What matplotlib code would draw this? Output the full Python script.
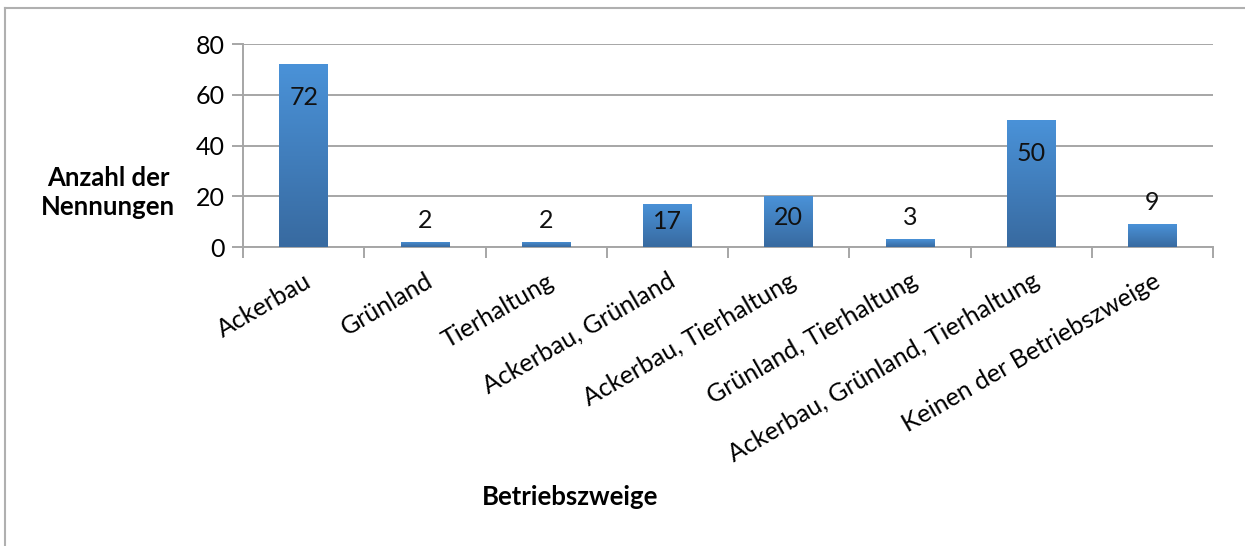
import numpy as np
import matplotlib.pyplot as plt
from matplotlib.lines import Line2D
from matplotlib.colors import LinearSegmentedColormap

categories = ["Ackerbau", "Grünland", "Tierhaltung", "Ackerbau, Grünland",
              "Ackerbau, Tierhaltung", "Grünland, Tierhaltung",
              "Ackerbau, Grünland, Tierhaltung", "Keinen der Betriebszweige"]
counts = [72, 2, 2, 17, 20, 3, 50, 9]
y_ticks = [0, 20, 40, 60, 80]

plt.rcParams['font.family'] = ['Lato', 'DejaVu Sans']

fig = plt.figure(figsize=(12.45, 5.46), dpi=100)
ax = fig.add_axes([0.1952, 0.5476, 0.7791, 0.3718])

x = np.arange(len(categories))
bars = ax.bar(x, counts, width=0.4, color='none', edgecolor='none', zorder=3)

# vertical gradient for each bar, light on top
grad = LinearSegmentedColormap.from_list("bar", ["#386aa0", "#4a92d8"])
ramp = np.linspace(0, 1, 256).reshape(-1, 1)
for b in bars:
    x0, y0, w, h = b.get_x(), b.get_y(), b.get_width(), b.get_height()
    im = ax.imshow(ramp, cmap=grad, origin='lower', aspect='auto',
                   extent=[x0, x0 + w, y0, y0 + h], zorder=3)
    im.set_clip_path(b)

ax.set_xlim(-0.5, len(categories) - 0.5)
ax.set_ylim(0, 80)
ax.set_yticks(y_ticks)
ax.set_yticklabels([str(t) for t in y_ticks], fontsize=18)
ax.yaxis.grid(True, color='#a6a6a6', linewidth=1.4, zorder=0)
ax.set_axisbelow(True)

# category ticks sit on the boundaries between bars
ax.set_xticks(np.arange(len(categories) + 1) - 0.5)
ax.set_xticklabels([])
ax.set_xticks(x, minor=True)
ax.set_xticklabels(categories, minor=True, rotation=30, ha='right',
                   rotation_mode='anchor', fontsize=18)
ax.tick_params(axis='x', which='minor', length=0, pad=16)
ax.tick_params(axis='x', which='major', length=8, color='#a6a6a6', width=1.4)
ax.tick_params(axis='y', length=8, color='#a6a6a6', width=1.4, pad=5)

for side in ['top', 'right']:
    ax.spines[side].set_visible(False)
ax.spines['left'].set_color('#a6a6a6')
ax.spines['bottom'].set_color('#a6a6a6')
ax.spines['left'].set_linewidth(1.4)
ax.spines['bottom'].set_linewidth(1.4)

for xi, v in zip(x, counts):
    if v > 26:
        ypos = v - 13
    elif v >= 15:
        ypos = v / 2 + 1.5
    else:
        ypos = v + 8.5
    ax.text(xi, ypos, str(v), ha='center', va='center', fontsize=18,
            color='#111111', zorder=4)

fig.text(108 / 1245, 1 - 192 / 546, "Anzahl der\nNennungen", ha='center',
         va='center', fontsize=18.5, fontweight='bold', linespacing=1.25)
fig.text(570 / 1245, 1 - 497 / 546, "Betriebszweige", ha='center',
         va='center', fontsize=18.5, fontweight='bold')

# chart frame: top and left edges
fig.add_artist(Line2D([5 / 1245, 1.0], [1 - 8 / 546, 1 - 8 / 546],
                      transform=fig.transFigure, color='#b0b0b0', linewidth=1.5))
fig.add_artist(Line2D([5 / 1245, 5 / 1245], [0.0, 1 - 8 / 546],
                      transform=fig.transFigure, color='#b0b0b0', linewidth=1.5))

fig.savefig("out.png", dpi=100, facecolor='white')
